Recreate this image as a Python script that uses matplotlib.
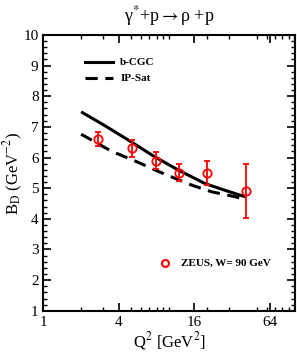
import matplotlib
matplotlib.use("Agg")
import matplotlib.pyplot as plt
from matplotlib.ticker import FixedLocator, LogLocator, NullFormatter, MultipleLocator

plt.rcParams['font.family'] = ['Liberation Serif', 'DejaVu Serif']
plt.rcParams['mathtext.fontset'] = 'stix'

# ZEUS data
zeus_q2 = [2.72, 5.1, 7.85, 12.1, 20.0, 41.5]
zeus_b = [6.6, 6.3, 5.9, 5.5, 5.5, 4.9]
zeus_err = [0.22, 0.28, 0.29, 0.28, 0.40, 0.88]

# b-CGC curve
cgc_q2 = [2.0, 3.0, 4.75, 7.74, 11.9, 19.4, 28.0, 40.5]
cgc_b = [7.49, 7.07, 6.57, 6.02, 5.59, 5.15, 4.93, 4.72]

# IP-Sat curve
ips_q2 = [2.0, 3.47, 5.71, 8.2, 11.2, 15.2, 22.0, 33.8, 39.5]
ips_b = [6.76, 6.21, 5.84, 5.55, 5.32, 5.10, 4.88, 4.72, 4.64]

xticks = [1, 4, 16, 64]
yticks = [1, 2, 3, 4, 5, 6, 7, 8, 9, 10]

fig = plt.figure(figsize=(2.97, 3.56), dpi=100)
ax = fig.add_axes([0.146, 0.127, 0.847, 0.775])

ax.plot(cgc_q2, cgc_b, color='black', lw=2.2, solid_capstyle='butt')
ax.plot(ips_q2, ips_b, color='black', lw=2.2, ls=(0, (4, 2.5)))
ax.errorbar(zeus_q2, zeus_b, yerr=zeus_err, fmt='o', mfc='none', mec='red',
            ecolor='red', ms=6, mew=1.3, elinewidth=1.3, capsize=2.5, capthick=1.3)

ax.set_xscale('log')
ax.set_xlim(1, 101)
ax.set_ylim(1, 10)
ax.xaxis.set_major_locator(FixedLocator(xticks))
ax.set_xticklabels([str(t) for t in xticks])
ax.xaxis.set_minor_locator(LogLocator(base=10, subs=[2, 3, 5, 6, 7, 8, 9, 10], numticks=20))
ax.xaxis.set_minor_formatter(NullFormatter())
ax.yaxis.set_major_locator(FixedLocator(yticks))
ax.yaxis.set_minor_locator(MultipleLocator(0.2))

ax.tick_params(which='both', direction='in', top=True, right=True, labelsize=11)
ax.tick_params(which='major', length=6, width=1.2)
ax.tick_params(which='minor', length=3, width=1.0)
for s in ax.spines.values():
    s.set_linewidth(1.5)

ax.set_xlabel(r'Q$^2$ [GeV$^2$]', fontsize=12, labelpad=1)
ax.set_ylabel(r'B$_\mathrm{D}$ (GeV$^{-2}$)', fontsize=12)
ax.yaxis.set_label_coords(-0.072, 0.5)
fig.text(0.57, 0.955, r'γ$^{*}$+p$\rightarrow$ρ +p', ha='center', va='center', fontsize=13)

# legend (manual)
ax.plot([2.15, 3.6], [9.1, 9.1], color='black', lw=2.2)
ax.text(4.1, 9.1, 'b-CGC', fontsize=8, fontweight='bold', va='center')
ax.plot([2.15, 3.6], [8.58, 8.58], color='black', lw=2.2, ls=(0, (4, 2.5)))
ax.text(4.1, 8.58, 'IP-Sat', fontsize=8, fontweight='bold', va='center')
ax.plot([9.4], [2.56], 'o', mfc='none', mec='red', ms=5, mew=1.5)
ax.text(12.6, 2.56, 'ZEUS, W= 90 GeV', fontsize=8, fontweight='bold', va='center')

fig.savefig('out.png', dpi=100)
